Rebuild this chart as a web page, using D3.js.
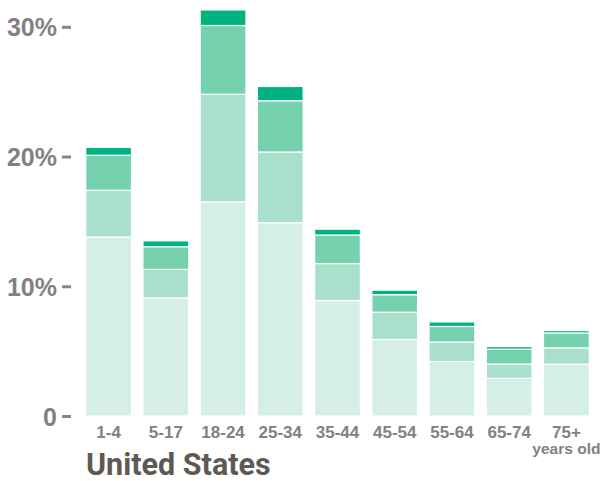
<!DOCTYPE html>
<html>
<head>
<meta charset="utf-8">
<script src="https://cdn.jsdelivr.net/npm/d3@7"></script>
<style>
  html, body { margin: 0; padding: 0; background: #fff; }
  svg { display: block; font-family: Roboto, "DejaVu Sans", sans-serif; }
</style>
</head>
<body>
<svg id="chart" width="602" height="481"></svg>
<script>
const categories = ["1-4", "5-17", "18-24", "25-34", "35-44", "45-54", "55-64", "65-74", "75+"];
const seriesA = [13.8, 9.1, 16.5, 14.9, 8.9, 5.9, 4.2, 2.9, 4.0];
const seriesB = [3.6, 2.2, 8.3, 5.45, 2.85, 2.1, 1.5, 1.1, 1.25];
const seriesC = [2.7, 1.75, 5.3, 3.95, 2.2, 1.35, 1.2, 1.15, 1.15];
const seriesD = [0.6, 0.45, 1.2, 1.1, 0.45, 0.35, 0.35, 0.2, 0.18];
const yTicks = [0, 10, 20, 30];
const yTickLabels = ["0", "10%", "20%", "30%"];
const title = "United States";
const lastSubLabel = "years old";

const colors = ["#d5efe4", "#a8e0cb", "#76d1ae", "#00b27f"];
const keys = ["a", "b", "c", "d"];

const table = categories.map((c, i) => ({
  cat: c, a: seriesA[i], b: seriesB[i], c: seriesC[i], d: seriesD[i]
}));
const stacked = d3.stack().keys(keys)(table);

const svg = d3.select("#chart");
const x = d3.scaleBand().domain(categories).range([80, 595]).paddingInner(0.2).paddingOuter(0.1);
const y = d3.scaleLinear().domain([0, 30]).range([416, 26.8]);

svg.append("g").selectAll("g")
  .data(stacked)
  .join("g")
  .attr("fill", (d, i) => colors[i])
  .selectAll("rect")
  .data(d => d)
  .join("rect")
  .attr("x", d => x(d.data.cat))
  .attr("width", x.bandwidth())
  .attr("y", d => y(d[1]))
  .attr("height", d => y(d[0]) - y(d[1]))
  .attr("stroke", "#ffffff")
  .attr("stroke-width", 1.2);

// y axis
const yAxis = d3.axisLeft(y)
  .tickValues(yTicks)
  .tickFormat((d, i) => yTickLabels[i])
  .tickSize(9)
  .tickPadding(5);
const gy = svg.append("g").attr("transform", "translate(71,0)").call(yAxis);
gy.select(".domain").remove();
gy.selectAll(".tick line").attr("stroke", "#8a8585").attr("stroke-width", 3);
gy.selectAll(".tick text")
  .attr("fill", "#858080")
  .attr("font-size", 25)
  .attr("font-weight", "bold")
  .attr("dy", "0.36em");

// x axis
const xAxis = d3.axisBottom(x).tickSize(0).tickPadding(0);
const gx = svg.append("g").attr("transform", "translate(0,438)").call(xAxis);
gx.select(".domain").remove();
gx.selectAll(".tick text")
  .attr("fill", "#858080")
  .attr("font-size", 17)
  .attr("font-weight", "bold")
  .attr("dy", 0)
  .attr("y", 0);
gx.selectAll(".tick").filter(d => d === categories[categories.length - 1])
  .append("text")
  .attr("y", 15.5)
  .attr("text-anchor", "middle")
  .attr("fill", "#858080")
  .attr("font-size", 15.5)
  .attr("font-weight", "bold")
  .text(lastSubLabel);

svg.append("text")
  .attr("x", 86)
  .attr("y", 475)
  .attr("fill", "#5f5954")
  .attr("font-size", 30.5)
  .attr("font-weight", "bold")
  .text(title);
</script>
</body>
</html>
